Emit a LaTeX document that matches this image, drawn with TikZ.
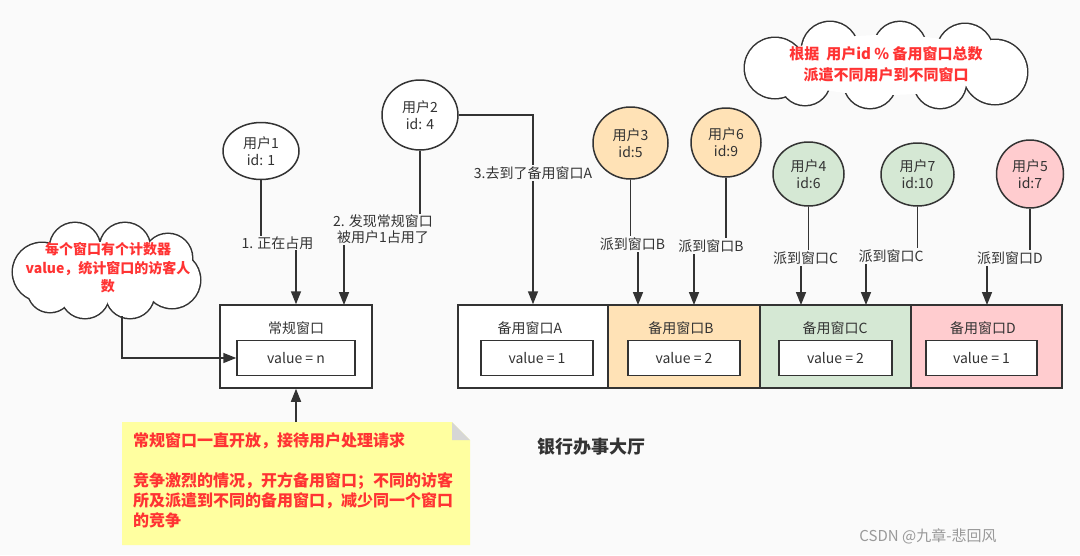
\documentclass[tikz,border=0pt]{standalone}
\usepackage{fontspec}
\newfontfamily\cjk{Noto Sans CJK SC}
\usetikzlibrary{shapes.geometric,arrows.meta}
\definecolor{bg}{HTML}{FAFAFA}
\definecolor{ln}{HTML}{333333}
\definecolor{redt}{HTML}{FF3333}
\definecolor{orf}{HTML}{FFE2B6}
\definecolor{grf}{HTML}{D5E8D4}
\definecolor{pkf}{HTML}{FFCCCF}
\definecolor{notef}{HTML}{FFFFA0}
\definecolor{foldf}{HTML}{D6D6D6}
\tikzset{
  lw/.style={line width=1.5pt},
  usr/.style={ellipse, draw=ln, lw, inner sep=0pt, align=center, text=ln,
    font=\cjk\fontsize{14}{17}\selectfont},
  win/.style={rectangle, draw=ln, lw, minimum height=83pt, inner sep=0pt},
  valbox/.style={rectangle, draw=ln, fill=white, lw, minimum height=35pt, inner sep=0pt,
    text=ln, font=\cjk\fontsize{14}{17}\selectfont},
  wtitle/.style={text=ln, inner sep=0pt, font=\cjk\fontsize{14}{17}\selectfont},
  elab/.style={fill=bg, inner sep=1pt, align=center, text=ln, font=\cjk\fontsize{14}{16}\selectfont},
  arr/.style={draw=ln, lw, -{Triangle[length=13pt,width=10pt]}},
  redtxt/.style={text=redt, align=center, font=\cjk\bfseries\fontsize{14}{18.5}\selectfont},
  puffline/.style={draw=ln, line width=3pt},
}
\begin{document}
\begin{tikzpicture}[x=1pt,y=-1pt]
\fill[bg] (0,0) rectangle (1080,555);
\useasboundingbox (0,0) rectangle (1080,555);

% left cloud (union of puffs: outline first, then white fill)
\begin{scope}
\foreach \px/\py/\r in {42/272/29, 75/248/25, 125/248/25, 168/258/24, 172/280/28, 130/294/24, 85/294/24, 50/290/22}
  \draw[puffline] (\px,\py) circle[radius=\r];
\foreach \px/\py/\r in {42/272/29, 75/248/25, 125/248/25, 168/258/24, 172/280/28, 130/294/24, 85/294/24, 50/290/22}
  \fill[white] (\px,\py) circle[radius=\r];
\fill[white] (107,270) ellipse[x radius=75, y radius=28];
\end{scope}
\node[redtxt] (clt) at (108,268) {每个窗口有个计数器\\value，统计窗口的访客人\\数};

% right cloud
\begin{scope}
\foreach \px/\py/\r in {775/68/30, 830/50/28, 900/48/26, 965/52/28, 995/72/32, 940/82/26, 870/82/26, 805/80/25}
  \draw[puffline] (\px,\py) circle[radius=\r];
\foreach \px/\py/\r in {775/68/30, 830/50/28, 900/48/26, 965/52/28, 995/72/32, 940/82/26, 870/82/26, 805/80/25}
  \fill[white] (\px,\py) circle[radius=\r];
\fill[white] (886,65) ellipse[x radius=110, y radius=30];
\end{scope}
\node[redtxt, font=\cjk\bfseries\fontsize{15}{21}\selectfont] (crt) at (886,64) {根据~~用户id \% 备用窗口总数\\派遣不同用户到不同窗口};

% windows
\node[win, fill=white, minimum width=152pt] (reg) at (296,346.5) {};
\node[wtitle] (regt) at (296,328) {常规窗口};
\node[valbox, minimum width=118pt] (regv) at (296,358) {value = n};

\node[win, fill=white, minimum width=150pt] (bA) at (533,346.5) {};
\node[win, fill=orf, minimum width=152pt] (bB) at (684,346.5) {};
\node[win, fill=grf, minimum width=151pt] (bC) at (835.5,346.5) {};
\node[win, fill=pkf, minimum width=151pt] (bD) at (986.5,346.5) {};
\node[wtitle] (bAt) at (530,328) {备用窗口A};
\node[wtitle] (bBt) at (681,328) {备用窗口B};
\node[wtitle] (bCt) at (835,328) {备用窗口C};
\node[wtitle] (bDt) at (983,328) {备用窗口D};
\node[valbox, minimum width=112pt] (bAv) at (537,358) {value = 1};
\node[valbox, minimum width=112pt] (bBv) at (684,358) {value = 2};
\node[valbox, minimum width=113pt] (bCv) at (835.5,358) {value = 2};
\node[valbox, minimum width=111pt] (bDv) at (981.5,358) {value = 1};

% users
\node[usr, fill=white, minimum width=76pt, minimum height=57pt] (u1) at (261,151) {用户1\\id: 1};
\node[usr, fill=white, minimum width=76pt, minimum height=70pt] (u2) at (420,115) {用户2\\id: 4};
\node[usr, fill=orf, minimum width=75pt, minimum height=72pt] (u3) at (630.5,143) {用户3\\id:5};
\node[usr, fill=orf, minimum width=70pt, minimum height=69pt] (u6) at (726,142.5) {用户6\\id:9};
\node[usr, fill=grf, minimum width=71pt, minimum height=64pt] (u4) at (808.5,174) {用户4\\id:6};
\node[usr, fill=grf, minimum width=73pt, minimum height=63pt] (u7) at (917.5,174.5) {用户7\\id:10};
\node[usr, fill=pkf, minimum width=67pt, minimum height=68pt] (u5) at (1030,174) {用户5\\id:7};

% note
\fill[notef] (122,422) -- (452,422) -- (470,440) -- (470,545) -- (122,545) -- cycle;
\fill[foldf] (452,422) -- (470,440) -- (452,440) -- cycle;
\node[anchor=north west, text=redt, align=left, inner sep=0pt,
  font=\cjk\bfseries\fontsize{16}{20}\selectfont] (notet) at (133,432)
  {常规窗口一直开放，接待用户处理请求\\[20pt]竞争激烈的情况，开方备用窗口；不同的访客\\所及派遣到不同的备用窗口，减少同一个窗口\\的竞争};
\coordinate (note) at (296,422);

% label positions
\coordinate (l1) at (277.5,243);
\coordinate (l2) at (383,229.5);
\coordinate (l3) at (533,173);
\coordinate (l4) at (632.5,244);
\coordinate (l5) at (711,246);
\coordinate (l6) at (805.5,258);
\coordinate (l7) at (891,256);
\coordinate (l8) at (1010,258);
\coordinate (t2) at (344,305);
\coordinate (t3) at (638,305);
\coordinate (t6) at (694,305);
\coordinate (t4) at (801,305);
\coordinate (t7) at (866,305);
\coordinate (t5) at (987,305);
\coordinate (c1) at (122,316);

% connectors
\draw[arr] (u1.south) |- (l1) -| (reg.north);
\draw[arr] (u2.south) |- (l2) -| (t2);
\draw[arr] (u2.east) -| (bA.north);
\draw[arr] (u3.south) |- (l4) -| (t3);
\draw[arr] (u6.south) |- (l5) -| (t6);
\draw[arr] (u4.south) |- (l6) -| (t4);
\draw[arr] (u7.south) |- (l7) -| (t7);
\draw[arr] (u5.south) |- (l8) -| (t5);
\draw[arr] (c1) |- (regv.west);
\draw[arr] (note) -- (reg.south);

% edge labels
\node[elab] (e1) at (l1) {1. 正在占用};
\node[elab] (e2) at (l2) {2. 发现常规窗口\\被用户1占用了};
\node[elab] (e3) at (l3) {3.去到了备用窗口A};
\node[elab] (e4) at (l4) {派到窗口B};
\node[elab] (e5) at (l5) {派到窗口B};
\node[elab] (e6) at (l6) {派到窗口C};
\node[elab] (e7) at (l7) {派到窗口C};
\node[elab] (e8) at (l8) {派到窗口D};

% titles
\node[text=ln, font=\cjk\bfseries\fontsize{18}{22}\selectfont] (hall) at (591,447) {银行办事大厅};
\node[text=black!40, font=\cjk\fontsize{15}{18}\selectfont] (wm) at (928,536) {CSDN @九章-悲回风};
\end{tikzpicture}
\end{document}
